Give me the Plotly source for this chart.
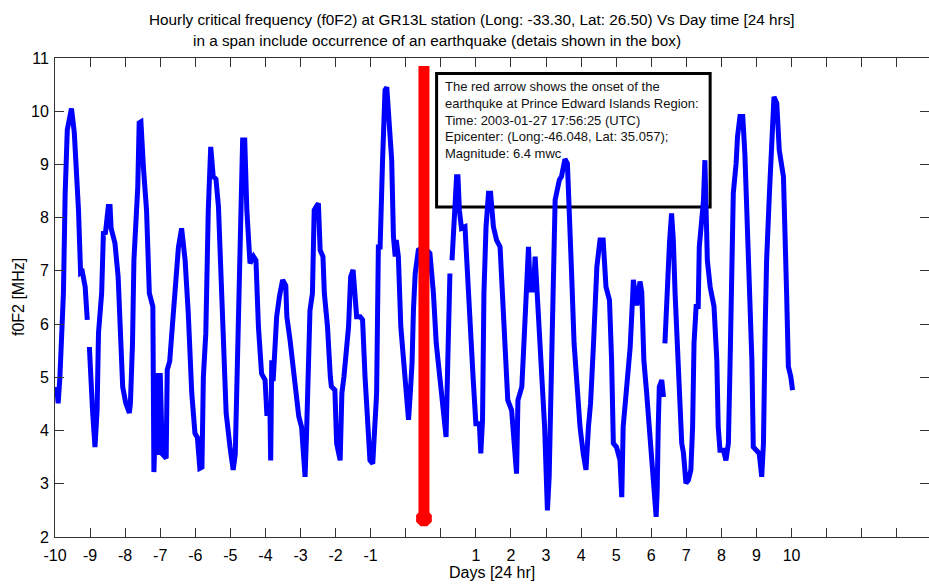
import plotly.graph_objects as go

# Hourly f0F2 trace, x in day-slot units (slot 0 = "-10", slot 21 = "10"),
# None marks missing hours
day_slot = [
    0.05, 0.09, 0.14, 0.24, 0.29, 0.35, 0.47, 0.52, 0.55, 0.67, 0.73, 0.78, 0.86, 0.92, None,
    0.98, 1.02, 1.07, 1.14, 1.20, 1.24, 1.33, 1.38, 1.44, 1.52, 1.57, 1.60, 1.71, 1.80, 1.85,
    1.93, 2.02, 2.12, 2.15, 2.21, 2.25, 2.31, 2.36, 2.40, 2.45, 2.52, 2.61, 2.69, 2.79, 2.82,
    2.90, 2.95, 3.00, 3.06, 3.17, 3.20, 3.27, 3.36, 3.42, 3.46, 3.52, 3.61, 3.71, 3.80, 3.90,
    3.99, 4.06, 4.13, 4.19, 4.23, 4.30, 4.37, 4.44, 4.51, 4.59, 4.66, 4.72, 4.80, 4.88, 4.99,
    5.08, 5.14, 5.20, 5.26, 5.30, 5.35, 5.41, 5.47, 5.56, 5.66, 5.73, 5.80, 5.89, 5.99, 6.04,
    6.13, 6.15, 6.18, 6.22, 6.32, 6.40, 6.49, 6.58, 6.61, 6.70, 6.89, 6.95, 7.03, 7.13, 7.17,
    7.20, 7.27, 7.34, 7.39, 7.45, 7.51, 7.56, 7.64, 7.68, 7.77, 7.85, 7.88, 7.98, 8.03, 8.13,
    8.18, 8.24, 8.30, 8.37, 8.43, 8.50, 8.55, 8.60, 8.70, 8.77, 8.84, 8.89, 8.98, 9.06, 9.09,
    9.17, 9.22, 9.27, 9.34, 9.41, 9.46, 9.53, 9.60, 9.65, 9.70, 9.73, 9.79, 9.86, 9.94, 10.01,
    10.08, 10.13, 10.18, 10.22, 10.27, 10.36, 10.52, 10.69, 10.79, 10.87, 10.96, 11.02, 11.12,
    11.15, 11.20, 11.26, None,
    11.32, 11.36, 11.45, 11.49, 11.53, 11.59, 11.69, 11.73, 11.83, 11.92, 12.00, 12.10, 12.14,
    12.19, 12.23, 12.29, 12.36, 12.42, 12.50, 12.59, 12.69, 12.76, 12.83, 12.91, 13.02, 13.07,
    13.16, 13.20, 13.31, 13.37, 13.43, 13.50, 13.55, 13.64, 13.69, 13.75, 13.82, 13.92, 13.96,
    14.04, 14.09, 14.13, 14.19, 14.26, 14.32, 14.38, 14.44, 14.50, 14.54, 14.61, 14.67, 14.73,
    14.80, 14.88, 14.97, 15.06, 15.14, 15.21, 15.27, 15.35, 15.45, 15.54, 15.63, 15.71, 15.81,
    15.87, 15.92, 16.01, 16.11, 16.16, 16.20, 16.30, 16.40, 16.47, 16.49, 16.59, 16.68, 16.73,
    16.79, 16.87, 16.97, 17.06, 17.14, 17.17, 17.20, 17.23, 17.30, 17.35, None,
    17.39, 17.44, 17.52, 17.58, 17.63, 17.68, 17.74, 17.80, 17.87, 17.92, 17.99, 18.06, 18.13,
    18.18, 18.22, 18.28, 18.34, 18.37, 18.44, 18.49, 18.53, 18.60, 18.68, 18.79, 18.87, 18.91,
    18.96, 19.06, 19.13, 19.20, 19.25, 19.30, 19.34, 19.42, 19.46, 19.53, 19.61, 19.67, 19.72,
    19.80, 19.87, 19.91, 20.01, 20.08, 20.15, 20.20, 20.25, 20.29, 20.37, 20.44, 20.50, 20.58,
    20.65, 20.77, 20.82, 20.86, 20.91, 20.98, 21.03,
]
f0f2_mhz = [
    4.82, 4.51, 5.01, 6.58, 8.46, 9.65, 10.05, 9.65, 9.60, 8.14, 6.96, 6.98, 6.70, 6.08, None,
    5.57, 4.76, 4.38, 3.69, 4.38, 5.83, 6.58, 7.71, 7.72, 8.21, 8.21, 7.80, 7.52, 6.89, 5.95,
    4.82, 4.51, 4.33, 4.51, 5.64, 7.20, 8.14, 8.58, 9.78, 9.80, 8.96, 8.14, 6.58, 6.33, 3.22,
    5.08, 3.54, 5.08, 3.56, 3.48, 5.14, 5.30, 6.08, 6.58, 6.70, 7.45, 7.80, 7.20, 6.20, 4.70,
    3.95, 3.87, 3.29, 3.31, 5.01, 5.83, 8.14, 9.33, 8.78, 8.72, 8.21, 7.30, 5.95, 4.33, 3.69,
    3.26, 3.56, 5.51, 7.08, 8.33, 9.46, 9.46, 8.14, 7.14, 7.27, 7.20, 5.95, 5.07, 4.95, 4.32,
    4.32, 3.44, 5.32, 4.93, 6.14, 6.52, 6.83, 6.72, 6.14, 5.71, 4.70, 4.27, 4.07, 3.13, 3.89,
    4.95, 6.26, 6.58, 8.14, 8.21, 8.27, 7.39, 7.27, 6.58, 5.95, 5.01, 4.83, 4.76, 3.76, 3.44,
    4.70, 5.02, 5.51, 5.95, 6.89, 7.02, 6.58, 6.14, 6.14, 6.08, 5.01, 4.33, 3.44, 3.38, 3.76,
    4.70, 7.45, 7.45, 9.08, 10.40, 10.45, 9.71, 9.08, 7.64, 7.27, 7.58, 7.27, 5.95, 5.26, 4.70,
    4.20, 4.70, 5.26, 6.26, 6.95, 7.39, 7.45, 7.33, 6.58, 5.64, 4.95, 4.70, 4.07,
    3.88, 5.32, 6.95, None,
    7.20, 7.60, 8.77, 8.77, 8.14, 7.80, 7.83, 7.33, 5.95, 5.01, 4.13, 4.13, 3.57,
    4.20, 6.58, 7.83, 8.46, 8.46, 7.83, 7.58, 7.45, 6.58, 5.64, 4.57, 4.38, 3.95,
    3.19, 4.57, 4.82, 5.64, 6.70, 7.45, 6.64, 6.64, 7.27, 6.58, 5.64, 4.57, 4.07,
    2.50, 3.13, 4.38, 5.95, 8.33, 8.52, 8.71, 8.77, 8.96, 9.10, 9.02, 8.14, 6.95,
    5.64, 4.82, 4.07, 3.57, 3.26, 4.07, 4.51, 5.57, 7.08, 7.58, 7.58, 6.70, 6.45,
    5.32, 3.76, 3.69, 3.44, 2.75, 4.07, 4.82, 5.57, 6.51, 6.83, 6.35, 6.80, 6.60,
    5.32, 4.70, 3.69, 3.07, 2.38, 2.88, 4.07, 4.82, 4.95, 4.63, None,
    5.64, 6.58, 7.52, 8.08, 7.58, 6.58, 5.57, 4.70, 3.76, 3.57, 3.01, 3.07, 3.26,
    4.07, 5.64, 6.33, 6.33, 7.45, 8.08, 8.33, 9.08, 7.20, 6.70, 6.33, 5.32, 4.07,
    3.63, 3.63, 3.44, 3.76, 5.32, 7.20, 8.46, 9.02, 9.52, 9.90, 9.90, 9.20, 8.14,
    6.89, 5.32, 3.69, 3.63, 3.57, 3.13, 3.76, 5.95, 7.20, 8.46, 9.40, 10.27, 10.15,
    9.27, 8.77, 7.83, 6.58, 5.20, 5.01, 4.76,
]

# Axis ticks: slots 10 and 11 bracket the event and carry no label
tick_slots = list(range(25))
tick_text = ["-10", "-9", "-8", "-7", "-6", "-5", "-4", "-3", "-2", "-1", "", "",
             "1", "2", "3", "4", "5", "6", "7", "8", "9", "10", "", "", ""]
y_ticks = [2, 3, 4, 5, 6, 7, 8, 9, 10, 11]

# Earthquake onset marker (slot position) and its vertical extent
quake_slot = 10.52
arrow_top, arrow_bottom = 10.85, 2.35

info_lines = [
    "The red arrow shows the onset of the",
    "earthquke at Prince Edward Islands Region:",
    "Time: 2003-01-27 17:56:25 (UTC)",
    "Epicenter: (Long:-46.048, Lat: 35.057);",
    "Magnitude: 6.4 mwc",
]
info_line_y = [10.47, 10.15, 9.83, 9.52, 9.20]
info_box = dict(x0=10.88, x1=18.68, y0=8.2, y1=10.71)

title_lines = [
    "Hourly critical frequency (f0F2) at GR13L station (Long: -33.30, Lat: 26.50) Vs Day time [24 hrs]",
    "in a span include occurrence of an earthquake (detais shown in the box)",
]

FONT = "Liberation Sans, Arial, sans-serif"

fig = go.Figure()

fig.add_trace(go.Scatter(
    x=day_slot, y=f0f2_mhz, mode="lines",
    line=dict(color="#0000ff", width=5),
    connectgaps=False, hoverinfo="skip", showlegend=False,
))

fig.add_trace(go.Scatter(
    x=[quake_slot, quake_slot], y=[arrow_top, arrow_bottom], mode="lines",
    line=dict(color="#ff0000", width=11),
    hoverinfo="skip", showlegend=False,
))
fig.add_trace(go.Scatter(
    x=[quake_slot], y=[arrow_bottom], mode="markers",
    marker=dict(symbol="octagon", size=17, color="#ff0000"),
    hoverinfo="skip", showlegend=False,
))

fig.add_shape(type="rect", xref="x", yref="y", layer="below",
              line=dict(color="black", width=3), fillcolor="rgba(0,0,0,0)",
              **info_box)

for txt, yv in zip(info_lines, info_line_y):
    fig.add_annotation(x=11.06, y=yv, xref="x", yref="y", text=txt,
                       showarrow=False, xanchor="left", yanchor="middle",
                       font=dict(family=FONT, size=13, color="#111"))

fig.add_annotation(x=0.4771, y=1.0814, xref="paper", yref="paper", text=title_lines[0],
                   showarrow=False, xanchor="center", yanchor="middle",
                   font=dict(family=FONT, size=15.3, color="black"))
fig.add_annotation(x=0.4365, y=1.0355, xref="paper", yref="paper", text=title_lines[1],
                   showarrow=False, xanchor="center", yanchor="middle",
                   font=dict(family=FONT, size=15.3, color="black"))

fig.add_annotation(x=-0.0423, y=0.501, xref="paper", yref="paper", text="f0F2 [MHz]",
                   showarrow=False, textangle=-90, xanchor="center", yanchor="middle",
                   font=dict(family=FONT, size=16, color="black"))
fig.add_annotation(x=0.5, y=-0.0731, xref="paper", yref="paper", text="Days [24 hr]",
                   showarrow=False, xanchor="center", yanchor="middle",
                   font=dict(family=FONT, size=16, color="black"))

axis_common = dict(
    showgrid=False, zeroline=False, showline=True, linecolor="#333", linewidth=1,
    mirror="ticks", ticks="inside", ticklen=9, tickcolor="#333", tickwidth=1,
    tickfont=dict(family=FONT, size=16, color="black"),
)
fig.update_xaxes(range=[0, 24.92], tickmode="array", tickvals=tick_slots,
                 ticktext=tick_text, ticklabelstandoff=4, **axis_common)
fig.update_yaxes(range=[2, 11], tickmode="array", tickvals=y_ticks,
                 ticktext=[str(v) for v in y_ticks], ticklabelstandoff=2, **axis_common)

fig.update_layout(
    width=929, height=585,
    margin=dict(l=55, r=0, t=58, b=48),
    paper_bgcolor="white", plot_bgcolor="white",
    showlegend=False,
)

fig.write_html("out.html")
